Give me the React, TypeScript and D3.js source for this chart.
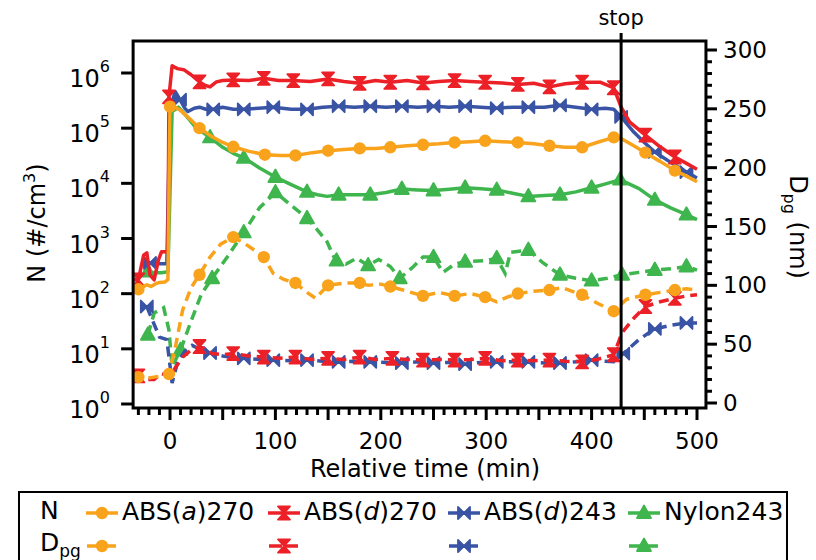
import React from 'react';
import * as d3 from 'd3';

type Pt = [number, number];

// N (#/cm3) -- solid lines, left log axis. [time (min), value]
const absA270N: Pt[] = [[-35,126],[-30,120],[-25,135],[-22,145],[-18,135],[-14,150],[-10,160],[-5,162],[-2,180],[0,2.45e5],[5,2.4e5],[10,2.1e5],[20,1.4e5],[28,1.0e5],[40,7e4],[50,5.5e4],[60,4.6e4],[75,3.8e4],[90,3.3e4],[105,3.2e4],[119,3.2e4],[135,3.6e4],[150,3.9e4],[165,4.1e4],[180,4.3e4],[195,4.3e4],[209,4.5e4],[225,4.8e4],[240,5e4],[255,5.2e4],[270,5.5e4],[285,5.7e4],[299,5.9e4],[315,5.7e4],[330,5.5e4],[345,5.2e4],[360,4.8e4],[375,4.5e4],[391,4.5e4],[405,5.5e4],[421,6.8e4],[428,6.5e4],[440,4.8e4],[451,3.6e4],[465,2.5e4],[479,1.7e4],[490,1.35e4],[500,1.07e4]];
const absA270NMarks = [-30,0,28,60,90,119,150,180,209,240,270,299,330,360,391,421,451,479];

const absD270N: Pt[] = [[-35,178],[-30,178],[-25,500],[-22,550],[-19,220],[-15,178],[-11,410],[-8,575],[-4,575],[-2,560],[-1,3.7e5],[2,1.35e6],[7,1.2e6],[13,1.15e6],[20,9.3e5],[28,6.9e5],[33,6e5],[38,5.6e5],[44,6.9e5],[50,7.3e5],[60,7.5e5],[75,7.3e5],[89,8e5],[103,7.3e5],[117,7.3e5],[133,7e5],[150,7.8e5],[165,7e5],[180,6.5e5],[195,7.3e5],[209,6.8e5],[225,7.3e5],[240,6.6e5],[255,7e5],[270,7.3e5],[285,7e5],[299,6.8e5],[315,6.6e5],[330,6.2e5],[345,6.5e5],[360,5.6e5],[375,6.4e5],[391,6.8e5],[408,6.8e5],[421,5.4e5],[428,2.4e5],[436,1.3e5],[451,7.5e4],[465,4.6e4],[479,3e4],[490,2.3e4],[500,1.8e4]];
const absD270NMarks = [-30,-1,28,60,89,117,150,180,209,240,270,299,330,360,391,421,451,479];

const absD243N: Pt[] = [[-25,363],[-19,363],[-10,350],[-3,350],[0,2.3e5],[5,4.6e5],[9.5,3.3e5],[14,2.3e5],[17,2.0e5],[23,2.3e5],[28,2.4e5],[34,2.2e5],[41,2.2e5],[50,2.4e5],[60,2.2e5],[70,2.2e5],[84,2.3e5],[98,2.4e5],[115,2.2e5],[130,2.2e5],[145,2.4e5],[160,2.5e5],[175,2.4e5],[190,2.5e5],[205,2.4e5],[220,2.5e5],[235,2.4e5],[250,2.5e5],[265,2.4e5],[280,2.5e5],[295,2.4e5],[310,2.3e5],[325,2.4e5],[340,2.4e5],[355,2.4e5],[370,2.6e5],[385,2.4e5],[400,2.2e5],[413,2.3e5],[421,2.2e5],[428,1.6e5],[440,8.5e4],[450,5.5e4],[460,3.7e4],[475,2.4e4],[490,1.6e4],[500,1.25e4]];
const absD243NMarks = [-19,9.5,41,70,98,130,160,190,220,250,280,310,340,370,400,428,460,490];

const nylon243N: Pt[] = [[-25,240],[-21,250],[-15,240],[-8,240],[-2,250],[2,2.0e5],[8,2.4e5],[15,1.7e5],[25,1.0e5],[38,6.8e4],[50,4.5e4],[60,3.5e4],[70,2.9e4],[85,1.9e4],[100,1.3e4],[115,9.5e3],[130,7e3],[140,6.2e3],[149,5.8e3],[160,6.2e3],[175,6.2e3],[190,6.2e3],[205,6.8e3],[220,7.9e3],[235,7.6e3],[250,7.4e3],[265,7.8e3],[280,8.3e3],[295,8e3],[310,7.6e3],[325,6.6e3],[340,5.8e3],[355,6e3],[370,6.2e3],[385,7e3],[400,8.3e3],[415,1e4],[427,1.17e4],[445,8e3],[460,5e3],[475,3.6e3],[490,2.7e3],[500,2.2e3]];
const nylon243NMarks = [-21,38,70,100,130,160,190,220,250,280,310,340,370,400,427,460,490];

// Dpg (nm) -- dashed lines, right axis
const absA270D: Pt[] = [[-35,24],[-30,22],[-22,21],[-15,22],[-8,23],[-1,24.6],[5,47],[12,79],[20,98],[28,109],[38,124],[48,135],[60,141],[70,136],[80,130],[89,124],[98,110],[108,105],[119,102],[130,94],[138,89],[150,100],[166,102],[180,102],[188,100],[200,101],[209,99],[221,96],[240,91],[255,94],[270,91],[285,93],[299,90],[310,86],[320,90],[330,93],[345,95],[360,96],[372,98],[391,92],[405,85],[421,78],[433,88],[451,92],[465,94],[479,96],[490,97],[500,96]];
const absA270DMarks = [-30,-1,28,60,89,119,150,180,209,240,270,299,330,360,391,421,451,479];

const absD270D: Pt[] = [[-35,24],[-30,23],[-22,20],[-15,20],[-9,25],[-4,24],[0,22],[5,30],[12,39],[20,45],[28,48],[35,45],[40,42],[50,41],[60,42],[75,40],[89,39],[104,38],[119,39],[135,37],[150,38],[165,37],[180,39],[195,37],[211,38],[225,37],[240,36.5],[255,37],[270,36.5],[285,37],[299,38],[315,36],[330,36.5],[345,36],[360,36.5],[375,35.5],[391,35],[405,37],[421,41],[429,60],[440,72],[451,82],[465,86],[479,89],[490,91],[500,92]];
const absD270DMarks = [-30,28,60,89,119,150,180,211,240,270,299,330,360,391,421,451,479];

const absD243D: Pt[] = [[-22,82],[-10,56],[-3,54],[2,17],[7,34],[14,44],[21,49],[30,45],[38,42.5],[50,40],[60,38.5],[70,38],[84,37],[98,36.5],[115,36],[130,36.5],[145,35.5],[160,35],[175,35.5],[190,35],[205,34.5],[220,34],[235,35],[250,34],[265,34.5],[280,33],[295,34.5],[310,35],[325,35],[340,35],[355,34],[370,34],[385,35],[400,36.5],[413,35.5],[421,35],[430,42],[445,54],[460,63],[475,66],[490,68],[500,68]];
const absD243DMarks = [-22,38,70,98,130,160,190,220,250,280,310,340,370,400,430,460,490];

const nylon243D: Pt[] = [[-21,58],[-15,76.5],[-6,81],[-1,62],[2,31],[10,45],[21,72],[30,93],[40,106],[55,125],[70,145],[85,166],[100,179],[115,168],[130,157],[140,147],[149,137],[155,125],[158,121],[167,118],[177,123],[188,117],[198,122],[209,116],[218,106],[231,116],[240,124],[250,124],[259,111],[270,118],[280,120],[300,121],[310,123],[318,110],[323,128],[340,130],[354,119],[370,109],[385,106],[400,104],[415,106],[429,109],[445,111],[460,113],[475,114],[490,116],[500,113]];
const nylon243DMarks = [-21,10,40,70,100,130,158,188,218,250,280,310,340,370,400,429,460,490];

const xTickLabels = [0, 100, 200, 300, 400, 500];
const nTickExps = [0, 1, 2, 3, 4, 5, 6];
const dTickLabels = [0, 50, 100, 150, 200, 250, 300];
const stopTime = 428;

const orange = '#f8a31b';
const red = '#ec2027';
const blue = '#3a54a5';
const green = '#3fb54e';
const font = 'DejaVu Sans, Arial, sans-serif';

// scales
const x = d3.scaleLinear().domain([0, 500]).range([170, 697]);
const yN = d3.scaleLog().domain([1, 1e6]).range([404, 73]);
const yD = d3.scaleLinear().domain([0, 300]).range([403, 50]);
const left = x(-35);
const right = x(508.5);
const top = 41;
const bottom = 408;

function Marker({ shape, cx, cy, fill }: { shape: string; cx: number; cy: number; fill: string }) {
  const s = 6;
  if (shape === 'circle') return <circle cx={cx} cy={cy} r={6.2} fill={fill} />;
  let d = '';
  if (shape === 'hourglass') d = `M${-s},${-s - 0.5}L${s},${-s - 0.5}L0,0ZM${-s},${s + 0.5}L${s},${s + 0.5}L0,0Z`;
  if (shape === 'bowtie') d = `M${-s},${-s}L0,0L${-s},${s}ZM${s},${-s}L0,0L${s},${s}Z`;
  if (shape === 'triangle') d = 'M0,-7.5L7,5L-7,5Z';
  return (
    <path d={d} transform={`translate(${cx},${cy})`} fill={fill} stroke={fill}
      strokeWidth={1.8} strokeLinejoin="round" />
  );
}

const nSeries = [
  { data: nylon243N, marks: nylon243NMarks, color: green, shape: 'triangle' },
  { data: absD243N, marks: absD243NMarks, color: blue, shape: 'bowtie' },
  { data: absD270N, marks: absD270NMarks, color: red, shape: 'hourglass' },
  { data: absA270N, marks: absA270NMarks, color: orange, shape: 'circle' },
];
const dSeries = [
  { data: nylon243D, marks: nylon243DMarks, color: green, shape: 'triangle' },
  { data: absD243D, marks: absD243DMarks, color: blue, shape: 'bowtie' },
  { data: absD270D, marks: absD270DMarks, color: red, shape: 'hourglass' },
  { data: absA270D, marks: absA270DMarks, color: orange, shape: 'circle' },
];

const legendItems = [
  { pre: 'ABS(', it: 'a', post: ')270', color: orange, shape: 'circle', x0: 86 },
  { pre: 'ABS(', it: 'd', post: ')270', color: red, shape: 'hourglass', x0: 268 },
  { pre: 'ABS(', it: 'd', post: ')243', color: blue, shape: 'bowtie', x0: 448 },
  { pre: 'Nylon243', it: '', post: '', color: green, shape: 'triangle', x0: 628 },
];

export default function App() {
  const lineN = d3.line<Pt>().x((d) => x(d[0])).y((d) => yN(d[1]));
  const lineD = d3.line<Pt>().x((d) => x(d[0])).y((d) => yD(d[1]));
  const xTicks = d3.range(-30, 501, 10);
  const dTicks = d3.range(0, 301, 10);

  return (
    <svg width={816} height={560} style={{ position: 'absolute', left: 0, top: 0, background: '#fff' }}
      fontFamily={font}>
      <defs>
        <clipPath id="plot">
          <rect x={left} y={top} width={right - left} height={bottom - top} />
        </clipPath>
      </defs>

      <g clipPath="url(#plot)">
        {dSeries.map((s, i) => (
          <g key={'d' + i}>
            <path d={lineD(s.data) || ''} fill="none" stroke={s.color} strokeWidth={3.5}
              strokeDasharray="10,6" />
            {s.data.filter((p) => s.marks.includes(p[0])).map((p, j) => (
              <Marker key={j} shape={s.shape} cx={x(p[0])} cy={yD(p[1])} fill={s.color} />
            ))}
          </g>
        ))}
        {nSeries.map((s, i) => (
          <g key={'n' + i}>
            <path d={lineN(s.data) || ''} fill="none" stroke={s.color} strokeWidth={3.5}
              strokeLinejoin="round" />
            {s.data.filter((p) => s.marks.includes(p[0])).map((p, j) => (
              <Marker key={j} shape={s.shape} cx={x(p[0])} cy={yN(p[1])} fill={s.color} />
            ))}
          </g>
        ))}
      </g>

      {/* frame */}
      <rect x={left} y={top} width={right - left} height={bottom - top} fill="none" stroke="#000" strokeWidth={3} />

      {/* stop line */}
      <line x1={x(stopTime)} x2={x(stopTime)} y1={33} y2={bottom} stroke="#000" strokeWidth={3} />
      <text x={x(stopTime)} y={25} fontSize={21} textAnchor="middle">stop</text>

      {/* bottom axis */}
      {xTicks.map((t) => (
        <line key={t} x1={x(t)} x2={x(t)} y1={bottom} y2={bottom + (t % 50 === 0 ? 12 : 7)}
          stroke="#000" strokeWidth={3} />
      ))}
      {xTickLabels.map((t) => (
        <text key={t} x={x(t)} y={449} fontSize={23} textAnchor="middle">{t}</text>
      ))}
      <text x={425} y={477} fontSize={24} textAnchor="middle">Relative time (min)</text>

      {/* left axis */}
      {nTickExps.map((e) => (
        <g key={e}>
          <line x1={left - 12} x2={left} y1={yN(10 ** e)} y2={yN(10 ** e)} stroke="#000" strokeWidth={3} />
          <text x={110} y={yN(10 ** e) + 14} fontSize={24} textAnchor="end">
            10<tspan dy={-15} fontSize={16}>{e}</tspan>
          </text>
        </g>
      ))}
      <text transform="translate(45,223) rotate(-90)" fontSize={24} textAnchor="middle">
        N (#/cm<tspan dy={-10} fontSize={16}>3</tspan><tspan dy={10}>)</tspan>
      </text>

      {/* right axis */}
      {dTicks.map((v) => (
        <line key={v} x1={right} x2={right + (v % 50 === 0 ? 11 : 6)} y1={yD(v)} y2={yD(v)}
          stroke="#000" strokeWidth={3} />
      ))}
      {dTickLabels.map((v) => (
        <text key={v} x={723} y={yD(v) + 8} fontSize={23}>{v}</text>
      ))}
      <text transform="translate(790,227) rotate(90)" fontSize={24} textAnchor="middle">
        D<tspan dy={6} fontSize={16}>pg</tspan><tspan dy={-6}> (nm)</tspan>
      </text>

      {/* legend */}
      <rect x={19} y={492} width={768} height={80} fill="none" stroke="#000" strokeWidth={2} />
      <text x={40} y={519} fontSize={25}>N</text>
      <text x={40} y={551} fontSize={25}>
        D<tspan dy={6} fontSize={17}>pg</tspan>
      </text>
      {legendItems.map((it, i) => (
        <g key={i}>
          <line x1={it.x0} x2={it.x0 + 32} y1={513} y2={513} stroke={it.color} strokeWidth={3.5} />
          <Marker shape={it.shape} cx={it.x0 + 16} cy={513} fill={it.color} />
          <text x={it.x0 + 36} y={520} fontSize={25}>
            {it.pre}
            {it.it && <tspan fontStyle="italic">{it.it}</tspan>}
            {it.post}
          </text>
          <line x1={it.x0 + 1} x2={it.x0 + 33} y1={546} y2={546} stroke={it.color} strokeWidth={3.5}
            strokeDasharray="13,3" />
          <Marker shape={it.shape} cx={it.x0 + 16} cy={546} fill={it.color} />
        </g>
      ))}
    </svg>
  );
}
